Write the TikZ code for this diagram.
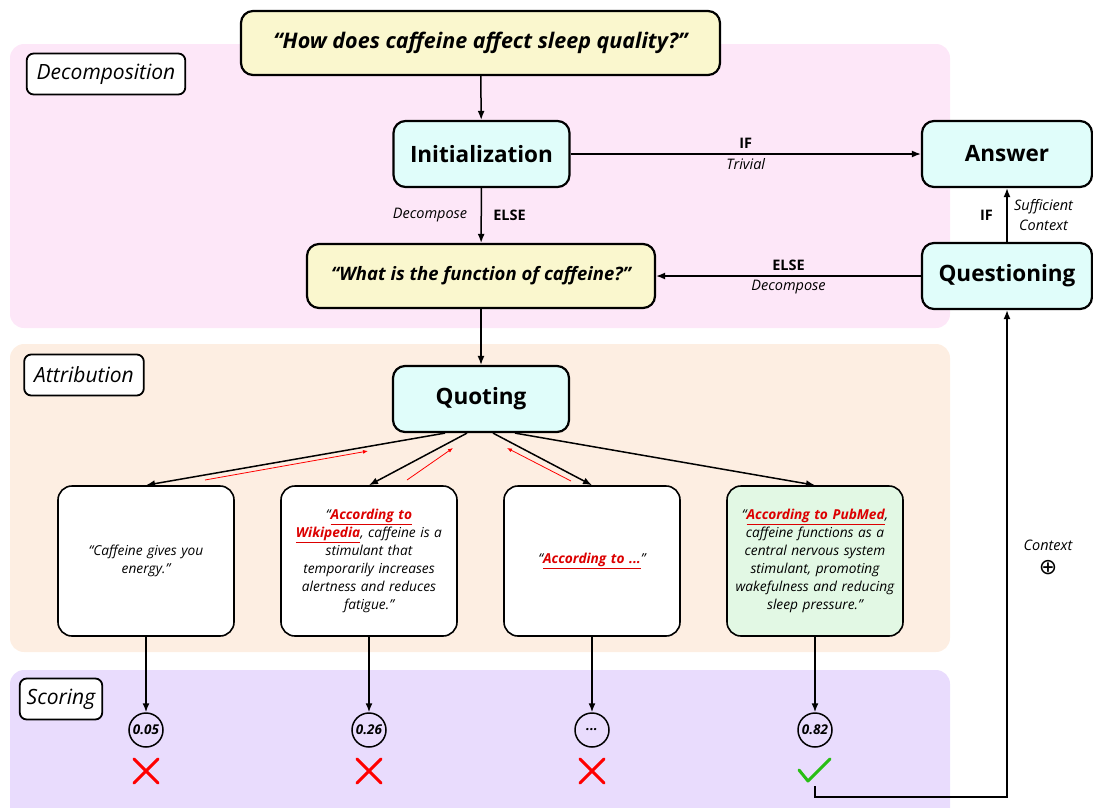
\documentclass[tikz,border=0pt]{standalone}
\usepackage{fontspec}
\setmainfont{Open Sans}
\newfontfamily\symfont{DejaVu Sans}
\usetikzlibrary{positioning,calc,arrows.meta}
\definecolor{decompbg}{RGB}{253,231,248}
\definecolor{attribbg}{RGB}{253,238,226}
\definecolor{scorebg}{RGB}{233,220,253}
\definecolor{queryyellow}{RGB}{250,247,206}
\definecolor{stagecyan}{RGB}{224,253,250}
\definecolor{goodgreen}{RGB}{226,248,228}
\definecolor{srcred}{RGB}{220,0,0}
\definecolor{tickgreen}{RGB}{40,190,20}
\newcommand{\src}[1]{\textcolor{srcred}{\bfseries\underline{#1}}}

\begin{document}
\begin{tikzpicture}[x=1pt, y=-1pt,
    tagbox/.style={draw, line width=1.8pt, rounded corners=7pt, fill=white,
        minimum height=41pt, inner xsep=10pt, font=\fontsize{21}{24}\selectfont\itshape},
    stagebox/.style={draw, line width=2.2pt, rounded corners=12pt, fill=stagecyan,
        minimum width=176pt, minimum height=66pt, font=\fontsize{22.5}{26}\selectfont\bfseries},
    querybox/.style={draw, line width=2.2pt, rounded corners=12pt, fill=queryyellow,
        minimum height=64pt, font=\bfseries\itshape},
    quotebox/.style={draw, line width=1.6pt, rounded corners=14pt, fill=white,
        minimum width=176pt, minimum height=150pt, text width=168pt, align=center,
        font=\fontsize{13.7}{18}\selectfont\itshape},
    scorenode/.style={draw, circle, line width=1.5pt, minimum size=34pt, inner sep=0pt,
        font=\fontsize{13.5}{14}\selectfont\bfseries\itshape},
    flow/.style={-{Latex[length=9pt,width=7pt]}, line width=1.5pt},
    back/.style={-{Latex[length=5pt,width=4pt]}, red, line width=0.8pt},
    cond/.style={font=\fontsize{14.5}{16}\selectfont\bfseries},
    why/.style={font=\fontsize{14.5}{20}\selectfont\itshape, align=center},
    reject/.pic={\draw[red, line width=3pt, line cap=round] (-12,-12) -- (12,12) (-12,12) -- (12,-12);},
    accept/.pic={\draw[tickgreen, line width=3pt, line cap=round, line join=round] (-16,-1) -- (-7,10) -- (15,-12);}
  ]
\useasboundingbox (0,0) rectangle (1093,807);

% stage panels
\begin{scope}
  \clip (0,0) rectangle (1093,807);
  \fill[decompbg, rounded corners=14pt] (10,44) rectangle (950,328);
  \fill[attribbg, rounded corners=14pt] (10,344) rectangle (950,652);
  \fill[scorebg, rounded corners=14pt] (10,670) rectangle (950,830);
\end{scope}

\node[tagbox] (decomptag) at (106,74) {Decomposition};
\node[tagbox] (attrtag) at (84,375) {Attribution};
\node[tagbox, inner xsep=7pt] (scoretag) at (61,699) {Scoring};

% decomposition
\node[querybox, minimum width=479pt, font=\fontsize{21.5}{24}\selectfont\bfseries\itshape] (mainq) at (480.5,43) {“How does caffeine affect sleep quality?”};
\node[stagebox] (init) at (481.5,154) {Initialization};
\node[stagebox, minimum width=170pt] (answer) at (1007,154) {Answer};
\node[querybox, minimum width=348pt, font=\fontsize{18.5}{22}\selectfont\bfseries\itshape] (subq) at (481,276) {“What is the function of caffeine?”};
\node[stagebox, minimum width=170pt] (quest) at (1007,276) {Questioning};

\draw[flow] (mainq) -- (init);
\draw[flow] (init) -- node[cond, above=1pt] {IF} node[why, below=0pt] {Trivial} (answer);
\draw[flow] (init) -- node[why, left=10pt] {Decompose} node[cond, right=8pt] {ELSE} (subq);
\draw[flow] (quest) -- node[cond, above=1pt] {ELSE} node[why, below=0pt] {Decompose} (subq);
\draw[flow] (quest) -- node[cond, left=10pt] {IF} node[why, right=3pt] {Sufficient\\Context} (answer);

% attribution
\node[stagebox] (quoting) at (481,399) {Quoting};
\node[quotebox] (q1) at (146,561) {“Caffeine gives you\\energy.”};
\node[quotebox] (q2) at (369,561) {“\src{According to}\\\src{Wikipedia}, caffeine is a\\stimulant that\\temporarily increases\\alertness and reduces\\fatigue.”};
\node[quotebox] (q3) at (592,561) {“\src{According to ...}”};
\node[quotebox, fill=goodgreen] (q4) at (815,561) {“\src{According to PubMed},\\caffeine functions as a\\central nervous system\\stimulant, promoting\\wakefulness and reducing\\sleep pressure.”};

\draw[flow] (subq) -- (quoting);
\draw[flow] ($(quoting.south)+(-36,0)$) -- (q1.north);
\draw[flow] ($(quoting.south)+(-14,0)$) -- (q2.north);
\draw[flow] ($(quoting.south)+(12,0)$) -- (q3.north);
\draw[flow] ($(quoting.south)+(34,0)$) -- (q4.north);

% feedback from the quotes
\coordinate (fb1a) at (205,480);
\coordinate (fb1b) at (368,451);
\coordinate (fb2a) at (407,480);
\coordinate (fb2b) at (453,448);
\coordinate (fb3a) at (571,481);
\coordinate (fb3b) at (507,448);
\draw[back] (fb1a) -- (fb1b);
\draw[back] (fb2a) -- (fb2b);
\draw[back] (fb3a) -- (fb3b);

% scoring
\node[scorenode] (s1) at (146,730) {0.05};
\node[scorenode] (s2) at (369,730) {0.26};
\node[scorenode] (s3) at (592,730) {...};
\node[scorenode] (s4) at (815,730) {0.82};
\foreach \i in {1,...,4}
  \draw[flow] (q\i) -- (s\i);

\pic at (146,771) {reject};
\pic at (369,771) {reject};
\pic at (592,771) {reject};
\pic at (815,771) {accept};

% best quote back to questioning
\coordinate (ctxstart) at (815,786);
\draw[flow] (ctxstart) -- ++(0,11) -| (quest.south);
\node[why] (ctxlabel) at (1048,545) {Context};
\node[font=\symfont\fontsize{22}{24}\selectfont] (ctxplus) at (1048,568) {⊕};
\end{tikzpicture}
\end{document}
